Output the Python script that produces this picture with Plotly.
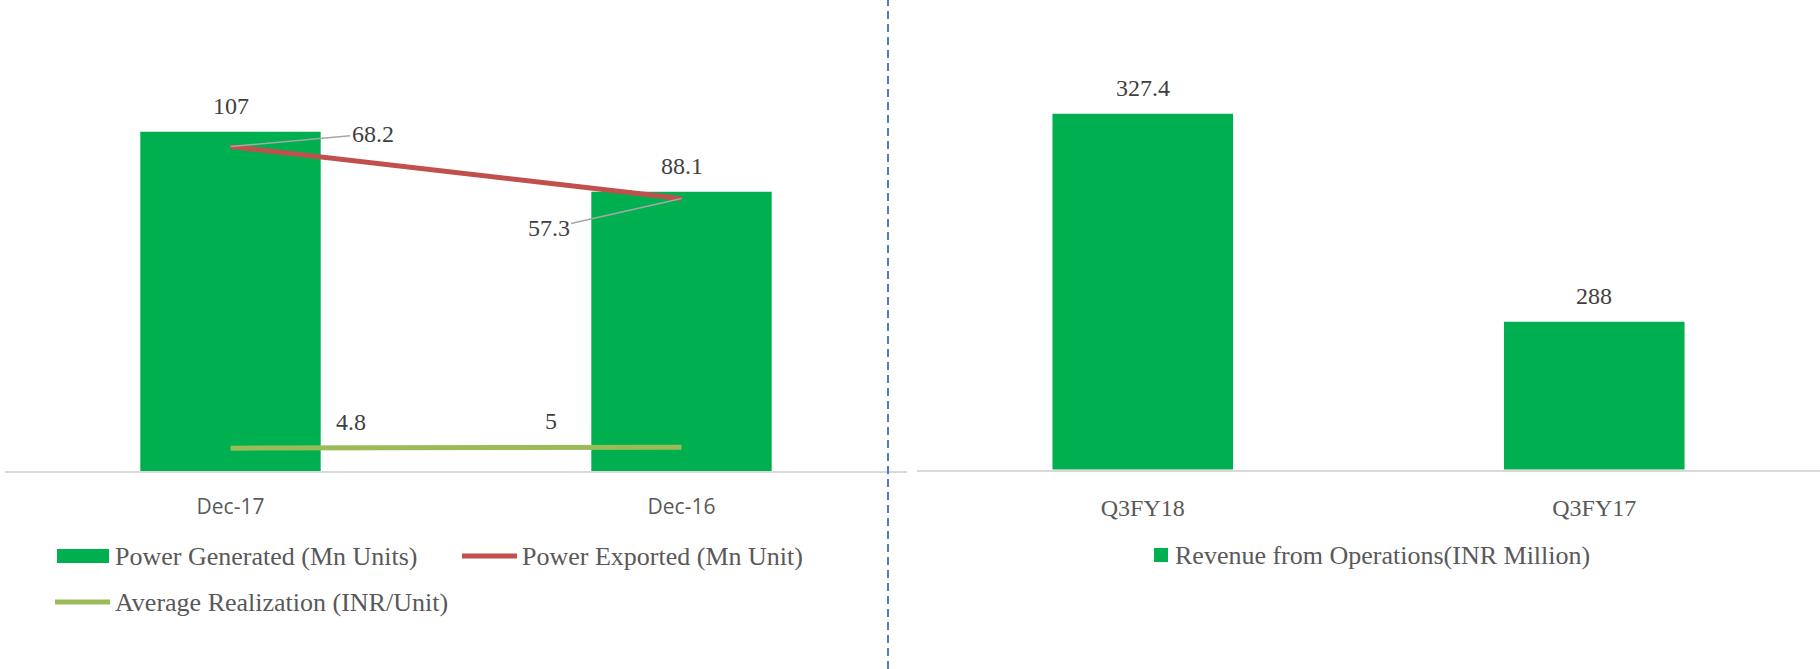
import plotly.graph_objects as go

# ---- data ----
months = ["Dec-17", "Dec-16"]
power_generated = [107, 88.1]
power_exported = [68.2, 57.3]
avg_realization = [4.8, 5]

quarters = ["Q3FY18", "Q3FY17"]
revenue = [327.4, 288]

legend_left = ["Power Generated (Mn Units)", "Power Exported (Mn Unit)", "Average Realization (INR/Unit)"]
legend_right = "Revenue from Operations(INR Million)"

W, H = 1820, 669
GREEN = "#00B050"
RED = "#C0504D"
LGREEN = "#9BBB59"
SERIF = "Liberation Serif"
LBL = "#404040"
TXT = "#595959"


def px(x):
    return x / W


def py(y):
    return 1 - y / H


fig = go.Figure()

fig.add_trace(go.Bar(x=months, y=power_generated, marker_color=GREEN, marker_line_width=0,
                     xaxis="x", yaxis="y", showlegend=False))
fig.add_trace(go.Scatter(x=months, y=power_exported, mode="lines", line=dict(color=RED, width=5),
                         xaxis="x", yaxis="y2", showlegend=False))
fig.add_trace(go.Scatter(x=months, y=avg_realization, mode="lines", line=dict(color=LGREEN, width=5),
                         xaxis="x", yaxis="y2", showlegend=False))
fig.add_trace(go.Bar(x=quarters, y=revenue, marker_color=GREEN, marker_line_width=0,
                     xaxis="x3", yaxis="y3", showlegend=False))

annotations = []
# bar labels
for c, v in zip(months, power_generated):
    annotations.append(dict(x=c, y=v, xref="x", yref="y", text=str(v), showarrow=False,
                            yshift=26, font=dict(family=SERIF, size=24, color=LBL)))
for c, v in zip(quarters, revenue):
    annotations.append(dict(x=c, y=v, xref="x3", yref="y3", text=str(v), showarrow=False,
                            yshift=26, font=dict(family=SERIF, size=24, color=LBL)))
# exported labels with leader lines
exp_offsets = [(142, -13), (-133, 30)]
for c, v, (ax, ay) in zip(months, power_exported, exp_offsets):
    annotations.append(dict(x=c, y=v, xref="x", yref="y2", text=str(v), showarrow=True,
                            arrowhead=0, arrowwidth=1.5, arrowcolor="#A6A6A6", ax=ax, ay=ay,
                            font=dict(family=SERIF, size=24, color=LBL)))
# realization labels
real_shift = [120, -131]
for c, v, xs in zip(months, avg_realization, real_shift):
    annotations.append(dict(x=c, y=v, xref="x", yref="y2", text=str(v), showarrow=False,
                            xshift=xs, yshift=26, font=dict(family=SERIF, size=24, color=LBL)))

# custom legends
leg_font = dict(family=SERIF, size=26, color=TXT)
annotations += [
    dict(x=px(113), y=py(556), xref="paper", yref="paper", text=legend_left[0], showarrow=False,
         xanchor="left", yanchor="middle", font=leg_font),
    dict(x=px(520), y=py(556), xref="paper", yref="paper", text=legend_left[1], showarrow=False,
         xanchor="left", yanchor="middle", font=leg_font),
    dict(x=px(113), y=py(602), xref="paper", yref="paper", text=legend_left[2], showarrow=False,
         xanchor="left", yanchor="middle", font=leg_font),
    dict(x=px(1173), y=py(555), xref="paper", yref="paper", text=legend_right, showarrow=False,
         xanchor="left", yanchor="middle", font=leg_font),
]

shapes = [
    dict(type="rect", xref="paper", yref="paper", x0=px(57), x1=px(109), y0=py(563), y1=py(549),
         fillcolor=GREEN, line_width=0),
    dict(type="line", xref="paper", yref="paper", x0=px(462), x1=px(517), y0=py(556), y1=py(556),
         line=dict(color=RED, width=5)),
    dict(type="line", xref="paper", yref="paper", x0=px(55), x1=px(110), y0=py(602), y1=py(602),
         line=dict(color=LGREEN, width=5)),
    dict(type="rect", xref="paper", yref="paper", x0=px(1154), x1=px(1168), y0=py(562), y1=py(548),
         fillcolor=GREEN, line_width=0),
    # divider
    dict(type="line", xref="paper", yref="paper", x0=px(888), x1=px(888), y0=0, y1=1,
         line=dict(color="#4A7EC7", width=2, dash="8px,5px")),
]

axis_common = dict(type="category", showline=True, linecolor="#D9D9D9", linewidth=2,
                   ticks="", showgrid=False, zeroline=False, fixedrange=True,
                   ticklabelstandoff=16)

fig.update_layout(
    width=W, height=H,
    margin=dict(l=0, r=0, t=0, b=0),
    paper_bgcolor="white", plot_bgcolor="rgba(0,0,0,0)",
    bargap=0.6,
    showlegend=False,
    xaxis=dict(domain=[px(5), px(907)], anchor="y",
               tickfont=dict(family="Open Sans", size=21, color=TXT), **axis_common),
    yaxis=dict(domain=[py(471), py(90.5)], range=[0, 120], visible=False, showgrid=False),
    yaxis2=dict(overlaying="y", range=[0, 80], visible=False, showgrid=False),
    xaxis3=dict(domain=[px(917), 1], anchor="y3",
                tickfont=dict(family=SERIF, size=24, color=TXT), **axis_common),
    yaxis3=dict(domain=[py(469.5), py(47.2)], range=[260, 340], visible=False, showgrid=False),
    annotations=annotations,
    shapes=shapes,
)

fig.write_html("out.html")
